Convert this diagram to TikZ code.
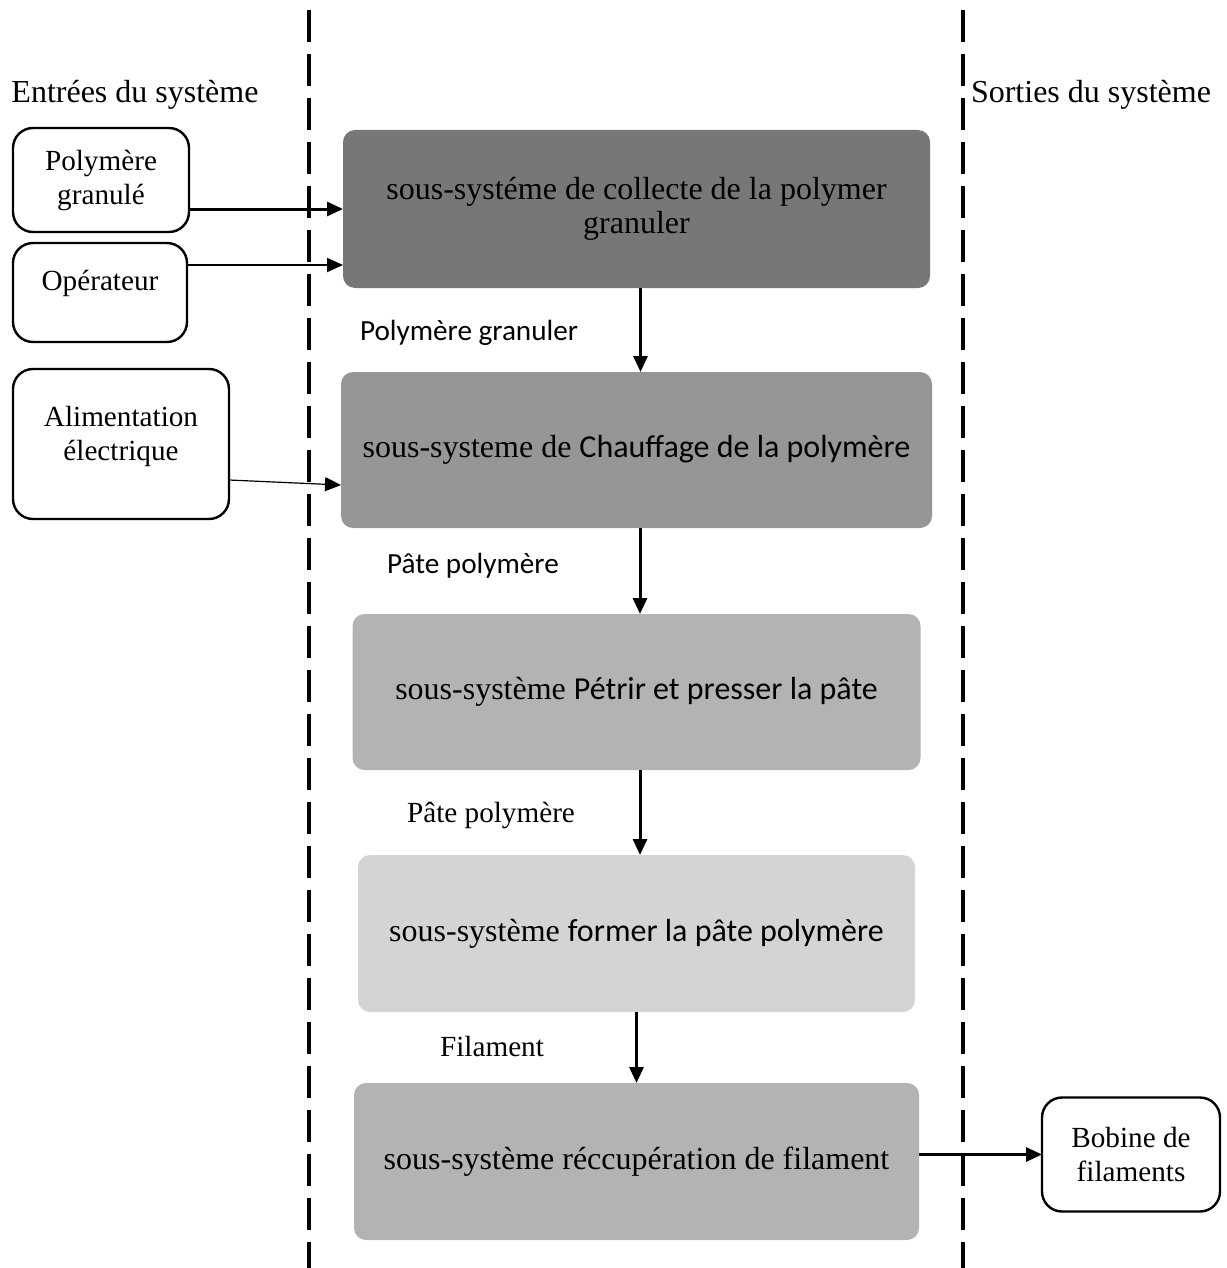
\documentclass[tikz,border=0pt]{standalone}
\usepackage{fontspec}
\setmainfont{Liberation Serif}
\newfontfamily\calibri{Carlito}
\usetikzlibrary{arrows.meta,positioning}
\definecolor{greydark}{HTML}{777777}
\definecolor{greymid}{HTML}{969696}
\definecolor{greylight}{HTML}{B3B3B3}
\definecolor{greypale}{HTML}{D4D4D4}

\begin{document}
\begin{tikzpicture}[
          x=0.5pt,y=-0.5pt,
          sub/.style={
            fill=#1,
            rounded corners=6pt,
            align=center,
            minimum height=78pt,
            inner sep=0pt,
            outer sep=0pt,
            font=\fontsize{16}{17}\selectfont
          },
          ext/.style={
            draw=black,
            line width=1.2pt,
            rounded corners=10pt,
            align=center,
            inner sep=0pt,
            outer sep=0pt,
            font=\fontsize{14.6}{17}\selectfont
          },
          flow/.style={font=\fontsize{14.6}{17}\selectfont},
          flowcal/.style={font=\calibri\fontsize{14.6}{17}\selectfont},
          title/.style={font=\fontsize{16}{19}\selectfont},
          border/.style={line width=2pt,dash pattern=on 16pt off 6pt},
          arr/.style={-{Triangle[length=8pt,width=7pt]},line width=1.5pt,draw=black}
        ]
        \useasboundingbox (0,0) rectangle (1226,1268);
        \coordinate (lefttop) at (309,10);
        \coordinate (leftbot) at (309,1268);
        \coordinate (righttop) at (963,10);
        \coordinate (rightbot) at (963,1268);
        \draw[border] (lefttop) -- (leftbot);
        \draw[border] (righttop) -- (rightbot);

        \node[title] (inputs) at (135,95) {Entrées du système};
        \node[title] (outputs) at (1091,95) {Sorties du système};

        \node[sub=greydark,minimum width=293.5pt,minimum height=79pt] (collect) at (636.5,209)
          {sous-systéme de collecte de la polymer\\granuler};
        \node[sub=greymid,minimum width=295.5pt,below=42pt of collect] (heat)
          {sous-systeme de {\calibri Chauffage de la polymère}};
        \node[sub=greylight,minimum width=284pt,below=43pt of heat] (knead)
          {sous-système {\calibri Pétrir et presser la pâte}};
        \node[sub=greypale,minimum width=278.5pt,minimum height=78.5pt,below=42.5pt of knead] (shape)
          {sous-système {\calibri former la pâte polymère}};
        \node[sub=greylight,minimum width=282.5pt,minimum height=78.5pt,below=35.5pt of shape] (recover)
          {sous-système réccupération de filament};

        \node[ext,minimum width=88pt,minimum height=52pt] (granule) at (101,180) {Polymère\\granulé};
        \node[ext,minimum width=87pt,minimum height=49.5pt,text height=10pt,text depth=12.5pt] (operator) at (100,292.5) {Opérateur};
        \node[ext,minimum width=108pt,minimum height=75pt,text depth=11pt] (power) at (121,444) {Alimentation\\électrique};
        \node[ext,minimum width=89pt,minimum height=57pt] (spool) at (1131,1154.5) {Bobine de\\filaments};

        \node[flowcal] (lbgran) at (469,333) {Polymère granuler};
        \node[flowcal] (lbpaste) at (473,566) {Pâte polymère};
        \node[flow] (lbpaste2) at (491,815) {Pâte polymère};
        \node[flow] (lbfil) at (492,1046) {Filament};

        \draw[arr] (granule.east |- collect.west) -- (collect.west);
        \draw[arr,line width=1pt] ([yshift=13.75pt]operator.east) -- ([yshift=13.75pt]operator.east -| collect.west);
        \draw[arr,line width=0.6pt] ([yshift=-18pt]power.east) -- ([yshift=-17.5pt]heat.west);
        \draw[arr] ([xshift=2pt]collect.south) -- ([xshift=2pt]heat.north);
        \draw[arr] ([xshift=1.75pt]heat.south) -- ([xshift=1.75pt]knead.north);
        \draw[arr] ([xshift=1.75pt]knead.south) -- ([xshift=1.75pt]shape.north);
        \draw[arr] (shape) -- (recover);
        \draw[arr] (recover.east |- spool.west) -- (spool.west);
      \end{tikzpicture}
\end{document}
